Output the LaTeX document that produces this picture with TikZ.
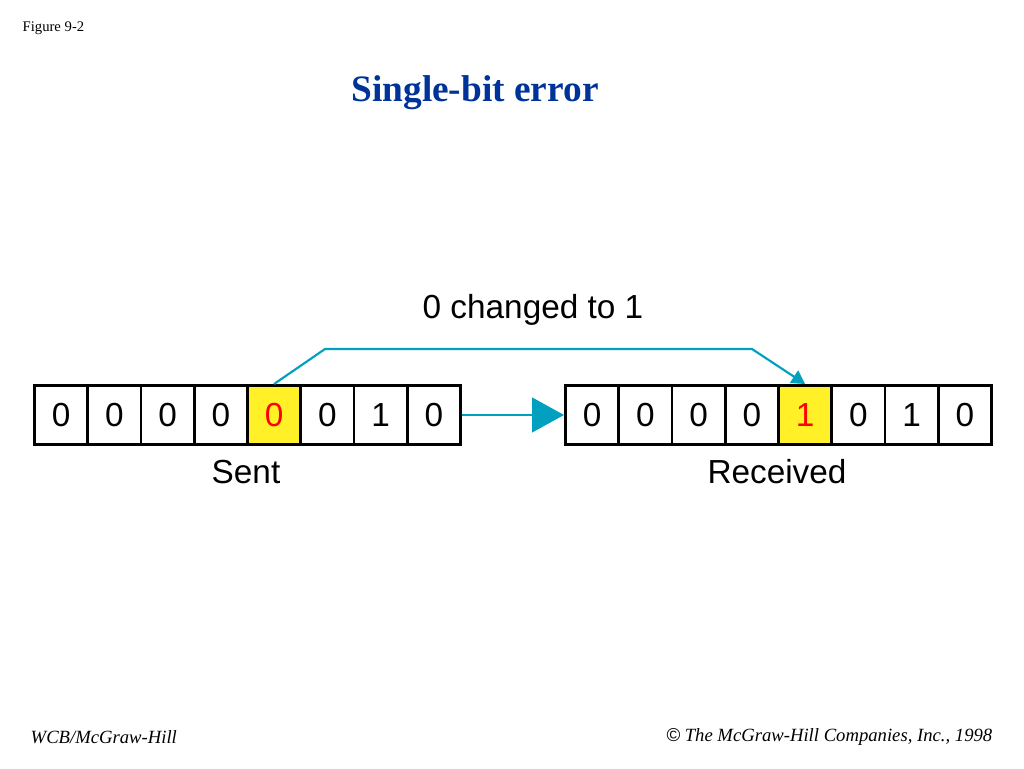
\documentclass[tikz,border=0pt]{standalone}
\usepackage{fontspec}
\setmainfont{Liberation Serif}
\newfontfamily\sansf{Liberation Sans}
\usetikzlibrary{arrows.meta}
\definecolor{titleblue}{RGB}{0,51,153}
\definecolor{teal}{RGB}{0,160,190}
\definecolor{hl}{RGB}{255,240,40}
\begin{document}
\begin{tikzpicture}[x=0.75pt,y=-0.75pt,
  cell/.style={draw,line width=2.2pt,minimum width=53.25*0.75pt,minimum height=59*0.75pt,inner sep=0pt,anchor=north west,font=\sansf\fontsize{25}{25}\selectfont},
  lbl/.style={font=\sansf\fontsize{25}{25}\selectfont},
  conn/.style={teal,line width=1.6pt}]
\useasboundingbox (0,0) rectangle (1024,768);
\node[anchor=west,font=\fontsize{11}{11}\selectfont] (fig) at (18,28) {Figure 9-2};
\node[font=\bfseries\fontsize{28}{28}\selectfont,text=titleblue] (title) at (475,93) {Single-bit error};
\foreach \i/\b in {0/0,1/0,2/0,3/0,4/0,5/0,6/1,7/0}{
  \node[cell] (s\i) at ({33+53.25*\i},384) {\b};
  \node[cell] (r\i) at ({564+53.25*\i},384) {\b};
}
\node[cell,fill=hl,text=red] (s4) at ({33+53.25*4},384) {0};
\node[cell,fill=hl,text=red] (r4) at ({564+53.25*4},384) {1};
\node[lbl] (sent) at (246,472) {Sent};
\node[lbl] (recv) at (777,472) {Received};
\node[lbl] (chg) at (533,310) {0 changed to 1};
\draw[conn,line width=2pt,-{Triangle[length=24pt,width=26pt]}] (s7.east) -- (r0.west);
\coordinate (c1) at (325,349);
\coordinate (c2) at (752,349);
\draw[conn,-{Triangle[length=10pt,width=11pt]}] (s4.north) -- (c1) -- (c2) -- (r4.north);
\node[anchor=west,font=\itshape\fontsize{14}{14}\selectfont] (wcb) at (26,737) {WCB/McGraw-Hill};
\node[anchor=east,font=\itshape\fontsize{14}{14}\selectfont] (copy) at (997,737) {{\sansf\textcopyright} The McGraw-Hill Companies, Inc., 1998};
\end{tikzpicture}
\end{document}
